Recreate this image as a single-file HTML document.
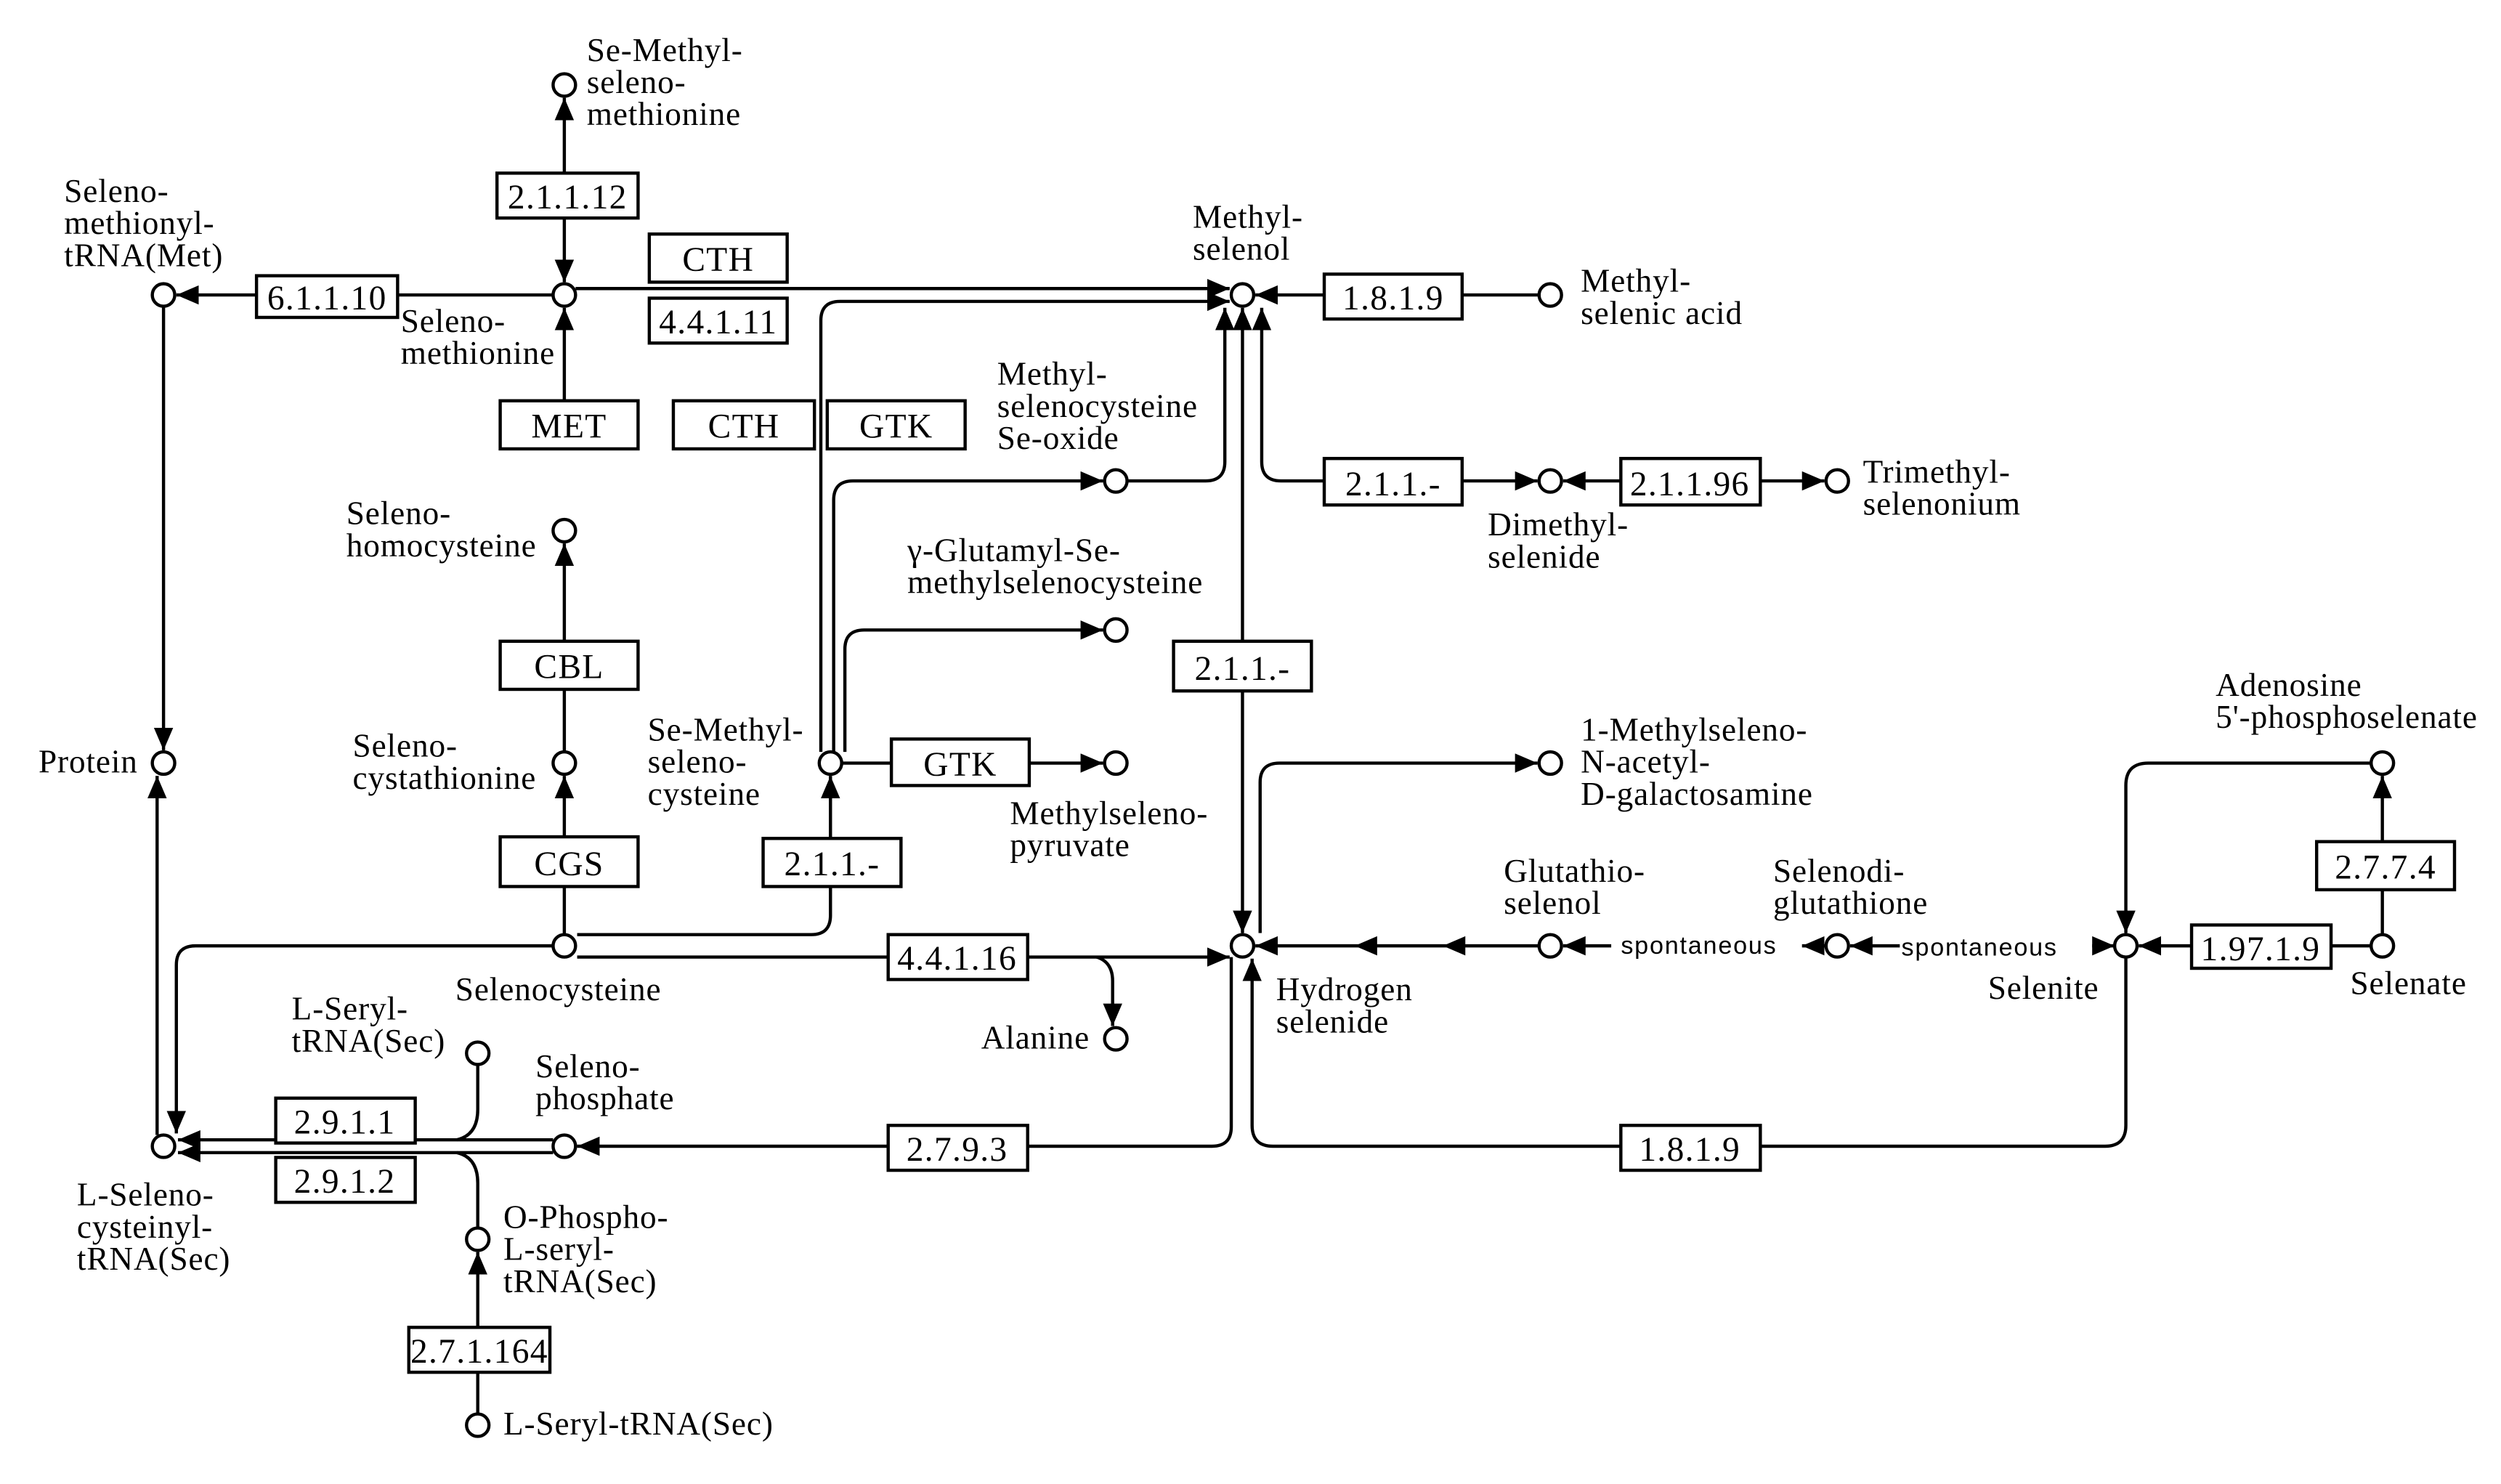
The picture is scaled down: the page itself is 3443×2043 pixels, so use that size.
<!DOCTYPE html>
<html><head><meta charset="utf-8"><style>
html,body{margin:0;padding:0;background:#fff;}
svg{display:block;}
text{font-family:"Liberation Serif",serif;font-size:20.5px;fill:#000;letter-spacing:0.4px;}
.s{font-family:"Liberation Sans",sans-serif;font-size:15.5px;letter-spacing:0.8px;}
.bx text{text-anchor:middle;font-size:21.5px;letter-spacing:0.6px;}
path,line{fill:none;stroke:#000;stroke-width:2;}
rect{fill:#fff;stroke:#000;stroke-width:2;}
circle{fill:#fff;stroke:#000;stroke-width:2;}
</style></head><body>
<svg width="3443" height="2043" viewBox="0 0 1560 925.7" preserveAspectRatio="none" xmlns="http://www.w3.org/2000/svg">
<defs><marker id="a" viewBox="0 0 14 12" refX="14" refY="6" markerWidth="14" markerHeight="12" markerUnits="userSpaceOnUse" orient="auto"><path d="M0,0 L14,6 L0,12 z" style="fill:#000;stroke:none"/></marker></defs>
<g marker-end="url(#a)">
<path d="M352,108 L352,61"/>
<path d="M352,136 L352,176"/>
<path d="M345,184 L110,184"/>
<path d="M359,180 L767,180"/>
<path d="M512,469 L512,200 Q512,188 524,188 L767,188"/>
<path d="M352,250 L352,192"/>
<path d="M352,469 L352,339"/>
<path d="M352,583 L352,484"/>
<path d="M102,191 L102,468"/>
<path d="M98,708 L98,484"/>
<path d="M345,590 L122,590 Q110,590 110,602 L110,707"/>
<path d="M345,711 L111,711"/>
<path d="M345,719 L111,719"/>
<path d="M298,882 L298,781"/>
<path d="M768,597 L768,703 Q768,715 756,715 L360,715"/>
<path d="M360,597 L767,597"/>
<path d="M684,597 Q694,600 694,612 L694,640"/>
<path d="M360,583 L506,583 Q518,583 518,571 L518,484"/>
<path d="M520,469 L520,312 Q520,300 532,300 L688,300"/>
<path d="M527,469 L527,405 Q527,393 539,393 L688,393"/>
<path d="M525,476 L688,476"/>
<path d="M703,300 L752,300 Q764,300 764,288 L764,192"/>
<path d="M775,420 L775,192"/>
<path d="M775,420 L775,582"/>
<path d="M826,300 L799,300 Q787,300 787,288 L787,192"/>
<path d="M912,300 L959,300"/>
<path d="M1011,300 L975,300"/>
<path d="M1098,300 L1138,300"/>
<path d="M960,184 L783,184"/>
<path d="M786,582 L786,488 Q786,476 798,476 L959,476"/>
<path d="M960,590 L783,590"/>
<path d="M1005,590 L975,590"/>
<path d="M1139,590 L1124,590"/>
<path d="M1185,590 L1154,590"/>
<path d="M1305,590 L1319,590"/>
<path d="M1367,590 L1334,590"/>
<path d="M1486,583 L1486,484"/>
<path d="M1479,476 L1340,476 Q1326,476 1326,490 L1326,582"/>
<path d="M1326,597 L1326,702 Q1326,715 1313,715 L794,715 Q781,715 781,702 L781,598"/>
</g>
<path d="M298,664 L298,692 Q298,708 285,711"/>
<path d="M298,766 L298,738 Q298,722 285,719"/>
<path d="M1454,590 L1479,590"/>
<polygon points="845,590 859,584 859,596" style="fill:#000"/>
<polygon points="900,590 914,584 914,596" style="fill:#000"/>
<g class="bx">
<rect x="310" y="108" width="88" height="28"/><text x="354" y="130">2.1.1.12</text>
<rect x="160" y="172" width="88" height="26"/><text x="204" y="193">6.1.1.10</text>
<rect x="405" y="146" width="86" height="30"/><text x="448" y="169">CTH</text>
<rect x="405" y="186" width="86" height="28"/><text x="448" y="208">4.4.1.11</text>
<rect x="826" y="171" width="86" height="28"/><text x="869" y="193">1.8.1.9</text>
<rect x="312" y="250" width="86" height="30"/><text x="355" y="273">MET</text>
<rect x="420" y="250" width="88" height="30"/><text x="464" y="273">CTH</text>
<rect x="516" y="250" width="86" height="30"/><text x="559" y="273">GTK</text>
<rect x="312" y="400" width="86" height="30"/><text x="355" y="423">CBL</text>
<rect x="312" y="522" width="86" height="31"/><text x="355" y="546">CGS</text>
<rect x="172" y="685" width="87" height="28"/><text x="215" y="707">2.9.1.1</text>
<rect x="172" y="722" width="87" height="28"/><text x="215" y="744">2.9.1.2</text>
<rect x="255" y="828" width="88" height="28"/><text x="299" y="850">2.7.1.164</text>
<rect x="554" y="702" width="87" height="28"/><text x="597" y="724">2.7.9.3</text>
<rect x="554" y="583" width="87" height="28"/><text x="597" y="605">4.4.1.16</text>
<rect x="556" y="461" width="86" height="29"/><text x="599" y="484">GTK</text>
<rect x="476" y="523" width="86" height="30"/><text x="519" y="546">2.1.1.-</text>
<rect x="732" y="400" width="86" height="31"/><text x="775" y="424">2.1.1.-</text>
<rect x="826" y="286" width="86" height="29"/><text x="869" y="309">2.1.1.-</text>
<rect x="1011" y="286" width="87" height="29"/><text x="1054" y="309">2.1.1.96</text>
<rect x="1367" y="577" width="87" height="27"/><text x="1410" y="599">1.97.1.9</text>
<rect x="1445" y="525" width="86" height="30"/><text x="1488" y="548">2.7.7.4</text>
<rect x="1011" y="702" width="87" height="28"/><text x="1054" y="724">1.8.1.9</text>
</g>
<g>
<circle cx="352" cy="53" r="7"/><circle cx="352" cy="184" r="7"/><circle cx="102" cy="184" r="7"/>
<circle cx="775" cy="184" r="7"/><circle cx="967" cy="184" r="7"/>
<circle cx="352" cy="331" r="7"/><circle cx="352" cy="476" r="7"/><circle cx="352" cy="590" r="7"/>
<circle cx="102" cy="476" r="7"/><circle cx="102" cy="715" r="7"/>
<circle cx="298" cy="657" r="7"/><circle cx="352" cy="715" r="7"/><circle cx="298" cy="773" r="7"/><circle cx="298" cy="889" r="7"/>
<circle cx="775" cy="590" r="7"/><circle cx="696" cy="648" r="7"/>
<circle cx="518" cy="476" r="7"/><circle cx="696" cy="476" r="7"/><circle cx="696" cy="300" r="7"/><circle cx="696" cy="393" r="7"/>
<circle cx="967" cy="300" r="7"/><circle cx="1146" cy="300" r="7"/><circle cx="967" cy="476" r="7"/>
<circle cx="967" cy="590" r="7"/><circle cx="1146" cy="590" r="7"/><circle cx="1326" cy="590" r="7"/>
<circle cx="1486" cy="590" r="7"/><circle cx="1486" cy="476" r="7"/>
</g>
<g>
<text x="366" y="38">Se-Methyl-</text><text x="366" y="58">seleno-</text><text x="366" y="78">methionine</text>
<text x="250" y="207">Seleno-</text><text x="250" y="227">methionine</text>
<text x="40" y="126">Seleno-</text><text x="40" y="146">methionyl-</text><text x="40" y="166">tRNA(Met)</text>
<text x="744" y="142">Methyl-</text><text x="744" y="162">selenol</text>
<text x="986" y="182">Methyl-</text><text x="986" y="202">selenic acid</text>
<text x="216" y="327">Seleno-</text><text x="216" y="347">homocysteine</text>
<text x="220" y="472">Seleno-</text><text x="220" y="492">cystathionine</text>
<text x="284" y="624">Selenocysteine</text>
<text x="24" y="482">Protein</text>
<text x="48" y="752">L-Seleno-</text><text x="48" y="772">cysteinyl-</text><text x="48" y="792">tRNA(Sec)</text>
<text x="182" y="636">L-Seryl-</text><text x="182" y="656">tRNA(Sec)</text>
<text x="334" y="672">Seleno-</text><text x="334" y="692">phosphate</text>
<text x="314" y="766">O-Phospho-</text><text x="314" y="786">L-seryl-</text><text x="314" y="806">tRNA(Sec)</text>
<text x="314" y="895">L-Seryl-tRNA(Sec)</text>
<text x="796" y="624">Hydrogen</text><text x="796" y="644">selenide</text>
<text x="612" y="654">Alanine</text>
<text x="404" y="462">Se-Methyl-</text><text x="404" y="482">seleno-</text><text x="404" y="502">cysteine</text>
<text x="630" y="514">Methylseleno-</text><text x="630" y="534">pyruvate</text>
<text x="622" y="240">Methyl-</text><text x="622" y="260">selenocysteine</text><text x="622" y="280">Se-oxide</text>
<text x="566" y="350">γ-Glutamyl-Se-</text><text x="566" y="370">methylselenocysteine</text>
<text x="928" y="334">Dimethyl-</text><text x="928" y="354">selenide</text>
<text x="1162" y="301">Trimethyl-</text><text x="1162" y="321">selenonium</text>
<text x="986" y="462">1-Methylseleno-</text><text x="986" y="482">N-acetyl-</text><text x="986" y="502">D-galactosamine</text>
<text x="938" y="550">Glutathio-</text><text x="938" y="570">selenol</text>
<text x="1106" y="550">Selenodi-</text><text x="1106" y="570">glutathione</text>
<text class="s" x="1011" y="595">spontaneous</text>
<text class="s" x="1186" y="596">spontaneous</text>
<text x="1240" y="623">Selenite</text>
<text x="1466" y="620">Selenate</text>
<text x="1382" y="434">Adenosine</text><text x="1382" y="454">5'-phosphoselenate</text>
</g>
</svg>
</body></html>
